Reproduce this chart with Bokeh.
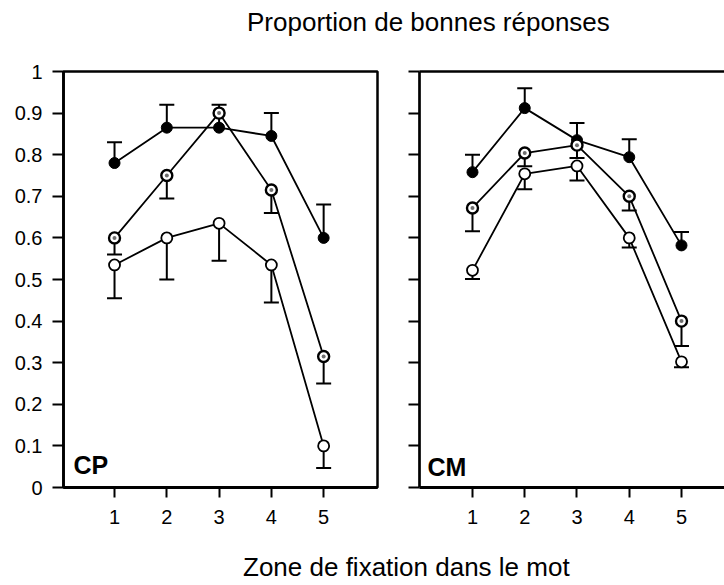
from bokeh.plotting import figure
from bokeh.models import (ColumnDataSource, Whisker, TeeHead, Label, LinearAxis,
                          FixedTicker, PrintfTickFormatter, Range1d, Div)
from bokeh.layouts import column, row
from bokeh.embed import file_html
from bokeh.resources import INLINE

# ---------------- data ----------------
zones = [1, 2, 3, 4, 5]
y_ticks = [0, 0.1, 0.2, 0.3, 0.4, 0.5, 0.6, 0.7, 0.8, 0.9, 1]

title_text = "Proportion de bonnes réponses"
xlabel_text = "Zone de fixation dans le mot"

# CP panel
cp_black = [0.78, 0.865, 0.865, 0.845, 0.60]
cp_black_err_up = [0.83, 0.92, 0.92, 0.90, 0.68]
cp_gray = [0.60, 0.75, 0.90, 0.715, 0.315]
cp_gray_err_low = [0.56, 0.695, None, 0.66, 0.25]
cp_white = [0.535, 0.60, 0.635, 0.535, 0.10]
cp_white_err_low = [0.455, 0.50, 0.545, 0.445, 0.047]

# CM panel
cm_black = [0.758, 0.912, 0.835, 0.794, 0.582]
cm_black_err_up = [0.80, 0.96, 0.876, 0.837, 0.614]
cm_gray = [0.672, 0.804, 0.823, 0.70, 0.40]
cm_gray_err_low = [0.616, 0.772, 0.792, 0.666, 0.34]
cm_white = [0.522, 0.754, 0.773, 0.60, 0.302]
cm_white_err_low = [0.501, 0.717, 0.738, 0.577, 0.289]

FONT = "Liberation Sans"


def err_source(vals, errs, upward):
    xs, lo, hi = [], [], []
    for x, v, e in zip(zones, vals, errs):
        if e is None:
            continue
        xs.append(x)
        if upward:
            lo.append(v); hi.append(e)
        else:
            lo.append(e); hi.append(v)
    return ColumnDataSource(dict(x=xs, lower=lo, upper=hi))


def add_whisker(p, vals, errs, upward):
    src = err_source(vals, errs, upward)
    head = TeeHead(size=15, line_width=2, line_color="black")
    w = Whisker(base="x", lower="lower", upper="upper", source=src,
                line_width=2, line_color="black", level="underlay",
                upper_head=head if upward else None,
                lower_head=None if upward else head)
    p.add_layout(w)


def draw_panel(p, black, black_up, gray, gray_low, white, white_low):
    add_whisker(p, black, black_up, True)
    add_whisker(p, gray, gray_low, False)
    add_whisker(p, white, white_low, False)
    for s in (black, gray, white):
        p.line(zones, s, line_color="black", line_width=1.8)
    p.scatter(zones, black, size=11, fill_color="black", line_color="black", line_width=1)
    p.scatter(zones, white, size=11, fill_color="white", line_color="black", line_width=1.8)
    p.scatter(zones, gray, size=11, fill_color="white", line_color="black", line_width=2.4)
    p.scatter(zones, gray, size=4, fill_color="#6e6e6e", line_color=None)


def style_axes(p, show_ylabels):
    yax = p.yaxis[0]
    yax.ticker = FixedTicker(ticks=y_ticks)
    yax.formatter = PrintfTickFormatter(format="%g")
    yax.axis_line_width = 2.7
    yax.major_tick_line_width = 2
    yax.major_tick_out = 11
    yax.major_tick_in = 0
    yax.minor_tick_line_color = None
    yax.major_label_standoff = 10
    yax.major_label_text_font = FONT
    if show_ylabels:
        yax.major_label_text_font_size = "20px"
        yax.major_label_text_color = "black"
    else:
        yax.major_label_text_font_size = "0px"
        yax.major_label_text_color = None

    xax = p.xaxis[0]
    xax.ticker = FixedTicker(ticks=zones)
    xax.axis_line_width = 3
    xax.major_tick_line_width = 2
    xax.major_tick_out = 10
    xax.major_tick_in = 0
    xax.minor_tick_line_color = None
    xax.major_label_standoff = 12
    xax.major_label_text_font = FONT
    xax.major_label_text_font_size = "20px"
    xax.major_label_text_color = "black"
    p.grid.visible = False


# ---------------- left panel (CP) ----------------
p1 = figure(width=393, height=486, output_backend="svg", toolbar_location=None,
            x_range=Range1d(0.024, 6.03), y_range=Range1d(0, 1),
            min_border_left=63, min_border_right=16, min_border_top=19,
            min_border_bottom=49)
p1.outline_line_color = "black"
p1.outline_line_width = 2.5
p1.outline_line_alpha = 1
style_axes(p1, True)
draw_panel(p1, cp_black, cp_black_err_up, cp_gray, cp_gray_err_low, cp_white, cp_white_err_low)
p1.add_layout(Label(x=0.215, y=0.055, text="CP", text_font=FONT, text_font_style="bold",
                    text_font_size="25px", text_baseline="middle", text_color="black"))

# ---------------- right panel (CM) ----------------
p2 = figure(width=331, height=486, output_backend="svg", toolbar_location=None,
            x_range=Range1d(-0.014, 5.823), y_range=Range1d(0, 1),
            min_border_left=26, min_border_right=0, min_border_top=21,
            min_border_bottom=48)
p2.outline_line_color = None
style_axes(p2, False)
top_axis = LinearAxis(ticker=FixedTicker(ticks=[]), axis_line_width=2.5,
                      major_tick_line_color=None, minor_tick_line_color=None,
                      major_label_text_font_size="0px", major_label_text_color=None)
p2.add_layout(top_axis, "above")
draw_panel(p2, cm_black, cm_black_err_up, cm_gray, cm_gray_err_low, cm_white, cm_white_err_low)
p2.add_layout(Label(x=0.139, y=0.050, text="CM", text_font=FONT, text_font_style="bold",
                    text_font_size="25px", text_baseline="middle", text_color="black"))

# ---------------- titles ----------------
title_div = Div(text=title_text, width=724, height=40,
                styles={"font-family": FONT, "font-size": "26px", "line-height": "26px",
                        "color": "black", "padding-left": "242px", "padding-top": "4px",
                        "white-space": "nowrap", "box-sizing": "border-box",
                        "overflow": "visible"})
xlabel_div = Div(text=xlabel_text, width=724, height=43,
                 styles={"font-family": FONT, "font-size": "26px", "line-height": "26px",
                         "color": "black", "padding-left": "238px", "padding-top": "13px",
                         "white-space": "nowrap", "box-sizing": "border-box",
                         "overflow": "visible"})

layout = column(title_div, row(p1, p2), xlabel_div)

open("out.html", "w").write(file_html(layout, INLINE))
